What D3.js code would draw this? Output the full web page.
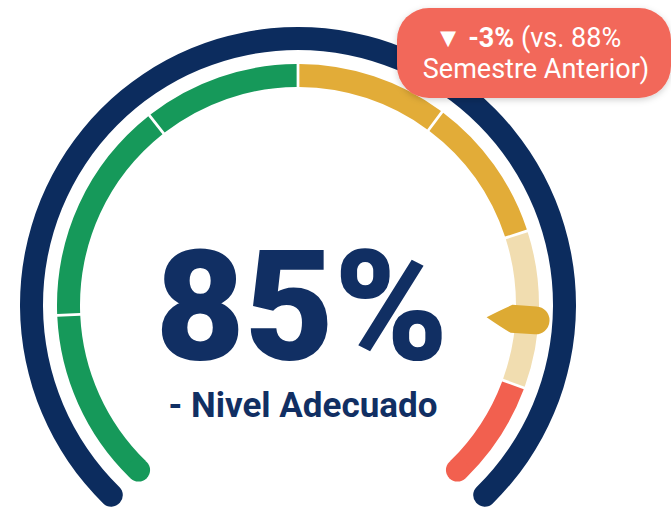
<!DOCTYPE html>
<html>
<head>
<meta charset="utf-8">
<script src="https://cdn.jsdelivr.net/npm/d3@7"></script>
<style>
  html, body { margin: 0; padding: 0; background: #ffffff; }
  svg { display: block; }
</style>
</head>
<body>
<svg id="chart" width="671" height="517"></svg>
<script>
// ---- data ----
const currentValue = 85;
const previousValue = 88;
const changeValue = -3;
const statusLabel = "- Nivel Adecuado";
const periodLabel = "Semestre Anterior";
const segmentBreaks = [0, 16, 36, 50, 63.5, 76.5, 90.5, 100];
const segmentColors = ["#16995a", "#16995a", "#16995a", "#e2ac38", "#e2ac38", "#f1ddb0", "#f2604f"];

// ---- layout ----
const svg = d3.select("#chart");
const cx = 298, cy = 305;
const toRad = d => d * Math.PI / 180;
const angle = d3.scaleLinear().domain([0, 100]).range([toRad(-136), toRad(136)]);

const defs = svg.append("defs");
const f = defs.append("filter").attr("id", "shadow").attr("x", "-20%").attr("y", "-30%").attr("width", "140%").attr("height", "170%");
f.append("feDropShadow").attr("dx", 0).attr("dy", 2).attr("stdDeviation", 3).attr("flood-color", "#000").attr("flood-opacity", 0.18);

const g = svg.append("g").attr("transform", `translate(${cx},${cy})`);

// outer navy track
const navyArc = d3.arc().innerRadius(255).outerRadius(278).cornerRadius(11.5);
g.append("path")
  .attr("d", navyArc({ startAngle: toRad(-138), endAngle: toRad(138) }))
  .attr("fill", "#0c2c5e");

// inner segmented band
const rIn = 218, rOut = 241;
const segArc = d3.arc().innerRadius(rIn).outerRadius(rOut).padAngle(0.012).padRadius(230);
const segments = d3.range(segmentColors.length).map(i => ({
  startAngle: angle(segmentBreaks[i]),
  endAngle: angle(segmentBreaks[i + 1]),
  color: segmentColors[i]
}));
g.selectAll("path.seg").data(segments).join("path")
  .attr("class", "seg")
  .attr("d", segArc)
  .attr("fill", d => d.color);

// rounded ends of the band
const rMid = (rIn + rOut) / 2;
[[segmentBreaks[0], segmentColors[0]], [segmentBreaks[segmentBreaks.length - 1], segmentColors[segmentColors.length - 1]]]
  .forEach(([v, c]) => {
    const a = angle(v);
    g.append("circle")
      .attr("cx", rMid * Math.sin(a))
      .attr("cy", -rMid * Math.cos(a))
      .attr("r", (rOut - rIn) / 2)
      .attr("fill", c);
  });

// pointer
const pointerPath = "M0,-189 Q9,-204 14,-214 L14,-238 A14,14 0 0 0 -14,-238 L-14,-214 Q-9,-204 0,-189 Z";
g.append("path")
  .attr("d", pointerPath)
  .attr("transform", `rotate(${angle(currentValue) * 180 / Math.PI - 1.5})`)
  .attr("fill", "#ddaa33");

// center texts
svg.append("text")
  .attr("x", 302).attr("y", 360)
  .attr("text-anchor", "middle")
  .attr("font-family", "Roboto, sans-serif")
  .attr("font-weight", 900)
  .attr("font-size", 154)
  .attr("fill", "#112f63")
  .text(currentValue + "%");

svg.append("text")
  .attr("x", 303).attr("y", 417)
  .attr("text-anchor", "middle")
  .attr("font-family", "Roboto, sans-serif")
  .attr("font-weight", 700)
  .attr("font-size", 35)
  .attr("fill", "#112f63")
  .text(statusLabel);

// badge
const badge = svg.append("g");
badge.append("rect")
  .attr("x", 397).attr("y", 8).attr("width", 274).attr("height", 90)
  .attr("rx", 32).attr("ry", 32)
  .attr("fill", "#f2685a")
  .attr("filter", "url(#shadow)");
const t1 = badge.append("text")
  .attr("x", 528).attr("y", 47)
  .attr("text-anchor", "middle")
  .attr("font-family", "Roboto, sans-serif")
  .attr("font-size", 27)
  .attr("fill", "#ffffff");
t1.append("tspan").attr("font-weight", 700).text("▼ " + changeValue + "%");
t1.append("tspan").text(" (vs. " + previousValue + "%");
badge.append("text")
  .attr("x", 536).attr("y", 78)
  .attr("text-anchor", "middle")
  .attr("font-family", "Roboto, sans-serif")
  .attr("font-size", 27)
  .attr("fill", "#ffffff")
  .text(periodLabel + ")");
</script>
</body>
</html>
